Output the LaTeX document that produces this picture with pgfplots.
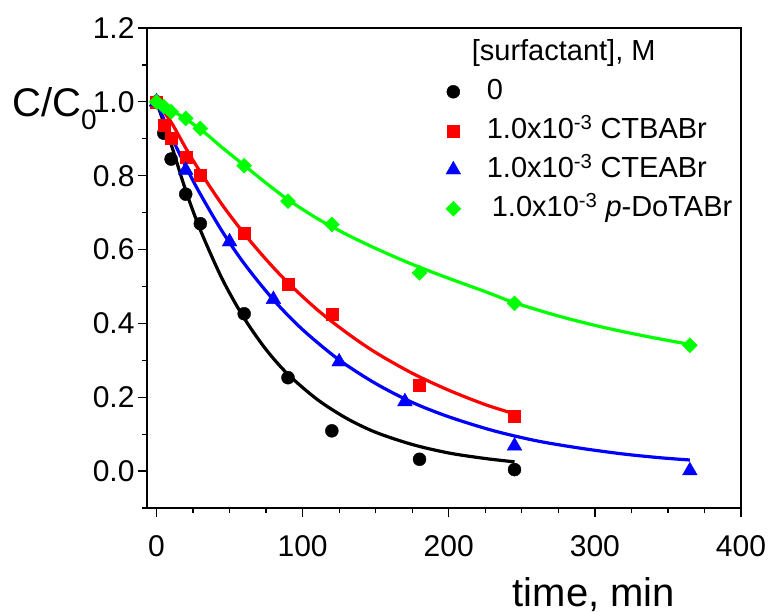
\documentclass[border=0pt]{standalone}
\usepackage{fontspec}
\setmainfont{Liberation Sans}
\usepackage{pgfplots}
\pgfplotsset{compat=1.18}
\definecolor{cgreen}{RGB}{0,255,0}
\definecolor{cred}{RGB}{255,0,0}
\definecolor{cblue}{RGB}{0,0,255}

\begin{document}
\begin{tikzpicture}
\path[use as bounding box] (-147pt,-104pt) rectangle (623pt,508pt);
\begin{axis}[
    scale only axis, width=594pt, height=480pt,
    at={(0pt,0pt)}, anchor=south west,
    xmin=-6.5, xmax=400, ymin=-0.1, ymax=1.2,
    xtick={0,100,200,300,400},
    minor xtick={25,50,75,125,150,175,225,250,275,325,350,375},
    ytick={0,0.2,0.4,0.6,0.8,1.0,1.2},
    minor ytick={-0.1,0.1,0.3,0.5,0.7,0.9,1.1},
    tick pos=left, tick align=outside,
    major tick length=9pt, minor tick length=5pt,
    tick style={line width=1.3pt, black},
    axis line style={line width=1.3pt},
    /pgf/number format/assume math mode=true,
    yticklabel style={/pgf/number format/fixed, /pgf/number format/fixed zerofill,
        /pgf/number format/precision=1},
    xticklabel style={yshift=-15pt},
    ticklabel style={font=\fontsize{30}{30}\selectfont},
    xlabel={time, min},
    xlabel style={font=\fontsize{40}{40}\selectfont, at={(axis description cs:0.7525,-0.206)}, anchor=base, inner sep=0pt},
    ylabel={C/C\raisebox{-13pt}{\fontsize{28}{28}\selectfont 0}},
    ylabel style={font=\fontsize{40}{40}\selectfont, rotate=-90, at={(axis description cs:-0.2273,0.815)}, anchor=base west, inner sep=0pt},
    legend style={draw=none, fill=none, at={(axis description cs:0.501,0.979)}, anchor=north west,
        font=\fontsize{29}{29}\selectfont, row sep=10pt, inner sep=0pt,
        nodes={inner sep=0pt, text height=22pt, text depth=7pt},
        /tikz/every odd column/.append style={column sep=26pt}},
    legend cell align=left,
]
\addlegendimage{empty legend}
\addlegendentry{\hspace*{-15pt}[surfactant], M}

% measured points
\addplot[only marks, mark=*, mark size=6.5pt, color=black] coordinates {
(0,1.0)(5,0.915)(10,0.845)(20,0.75)(30,0.67)(60,0.426)(90,0.253)(120,0.109)(180,0.032)(245,0.004)};
\addlegendentry{0}
\addplot[only marks, mark=square*, mark size=6pt, color=cred] coordinates {
(0,1.0)(5,0.937)(10,0.901)(20,0.851)(30,0.80)(60,0.644)(90,0.506)(120,0.425)(180,0.233)(245,0.149)};
\addlegendentry{1.0x10\textsuperscript{-3} CTBABr}
\addplot[only marks, mark=triangle*, mark size=8.5pt, color=cblue] coordinates {
(0,1.0)(20,0.815)(50,0.621)(80,0.465)(125,0.296)(170,0.188)(245,0.068)(365,0.001)};
\addlegendentry{1.0x10\textsuperscript{-3} CTEABr}
\addplot[only marks, mark=square*, mark options={rotate=45}, mark size=5.3pt, color=cgreen] coordinates {
(0,1.0)(5,0.987)(10,0.973)(20,0.955)(30,0.928)(60,0.827)(90,0.731)(120,0.668)(180,0.537)(245,0.454)(365,0.341)};
\addlegendentry{\hspace*{5pt}1.0x10\textsuperscript{-3} \textit{p}-DoTABr}

% fitted curves
\addplot[forget plot, no marks, smooth, line width=3.2pt, color=black] coordinates {
(0,1.0)(10,0.885)(20,0.760)(30,0.653)(45,0.520)(60,0.414)(75,0.329)(90,0.262)(110,0.194)(130,0.143)(150,0.105)(175,0.072)(200,0.049)(225,0.034)(245,0.025)};
\addplot[forget plot, no marks, smooth, line width=3.2pt, color=cred] coordinates {
(0,1.0)(10,0.945)(20,0.875)(30,0.810)(45,0.721)(60,0.643)(75,0.573)(90,0.510)(110,0.437)(130,0.375)(150,0.321)(175,0.265)(200,0.219)(225,0.180)(245,0.155)};
\addplot[forget plot, no marks, smooth, line width=3.2pt, color=cblue] coordinates {
(0,1.0)(10,0.908)(20,0.825)(30,0.750)(45,0.649)(60,0.562)(80,0.464)(100,0.383)(125,0.301)(150,0.237)(175,0.186)(200,0.147)(230,0.110)(260,0.082)(290,0.062)(320,0.046)(345,0.036)(365,0.030)};
\addplot[forget plot, no marks, smooth, line width=3.2pt, color=cgreen] coordinates {
(0,1.0)(15,0.966)(30,0.926)(45,0.876)(60,0.828)(75,0.780)(90,0.735)(110,0.684)(130,0.641)(150,0.603)(175,0.560)(200,0.522)(225,0.486)(245,0.456)(275,0.420)(305,0.390)(335,0.365)(365,0.343)};
\end{axis}
\end{tikzpicture}
\end{document}
